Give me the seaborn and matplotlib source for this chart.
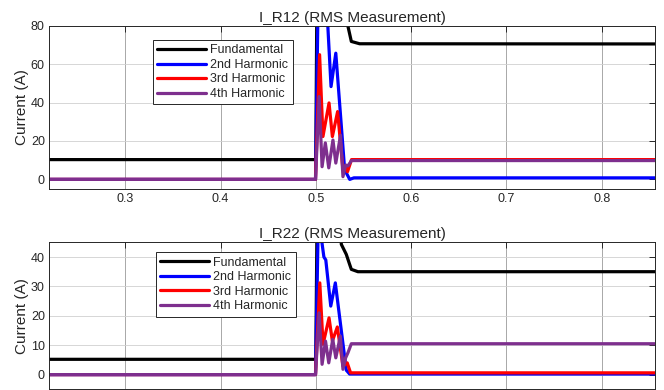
import matplotlib
matplotlib.use("Agg")
import matplotlib.pyplot as plt
import seaborn as sns
import pandas as pd

# ---------------- data ----------------
series_names = ["Fundamental", "2nd Harmonic", "3rd Harmonic", "4th Harmonic"]
series_colors = ["#000000", "#0000FF", "#FF0000", "#7E2F8E"]

# Panel 1: I_R12
r12_fund_t = [0.22, 0.5, 0.5015, 0.530, 0.5338, 0.5373, 0.546, 0.856]
r12_fund_v = [10.3, 10.3, 120, 120, 79.6, 71.8, 70.6, 70.5]
r12_h2_t = [0.22, 0.4997, 0.5025, 0.511, 0.516, 0.521, 0.5303, 0.5356, 0.540, 0.856]
r12_h2_v = [0, 0, 95, 95, 48.3, 65.7, 5, 0, 0.8, 0.8]
r12_h3_t = [0.22, 0.4997, 0.5040, 0.5075, 0.5139, 0.5174, 0.5229, 0.5285, 0.531, 0.5333, 0.5375, 0.856]
r12_h3_v = [0, 0, 64.9, 22.3, 39.8, 22.3, 35.3, 5, 7, 4, 10.3, 10.3]
r12_h4_t = [0.22, 0.4997, 0.5035, 0.5066, 0.510, 0.5136, 0.518, 0.521, 0.526, 0.5285, 0.5313, 0.5337, 0.5375, 0.856]
r12_h4_v = [0, 0, 43.1, 6.6, 19, 6, 20.5, 8.5, 23, 1.4, 7.5, 7, 9.8, 9.8]

# Panel 2: I_R22
r22_fund_t = [0.22, 0.5, 0.5015, 0.524, 0.5268, 0.532, 0.5355, 0.5373, 0.5442, 0.856]
r22_fund_v = [5.2, 5.2, 60, 60, 44.3, 40.9, 37.5, 35.8, 35.0, 35.0]
r22_h2_t = [0.22, 0.4997, 0.5025, 0.506, 0.5085, 0.5105, 0.5157, 0.5205, 0.532, 0.5355, 0.856]
r22_h2_v = [0, 0, 50, 46, 40, 39, 23.3, 31.2, 1.5, 0.2, 0.2]
r22_h3_t = [0.22, 0.4997, 0.5042, 0.5076, 0.5139, 0.5174, 0.5226, 0.5285, 0.5330, 0.5365, 0.856]
r22_h3_v = [0, 0, 31.2, 10.3, 19.3, 11.4, 16.2, 2.9, 4, 0.6, 0.6]
r22_h4_t = [0.22, 0.4997, 0.5035, 0.5066, 0.5102, 0.5136, 0.5178, 0.521, 0.5258, 0.5285, 0.5313, 0.5337, 0.5373, 0.856]
r22_h4_v = [0, 0, 21, 3.5, 11.4, 4, 12, 5.7, 13.1, 1.8, 5.7, 7.4, 10.5, 10.5]

titles = ["I_R12 (RMS Measurement)", "I_R22 (RMS Measurement)"]
x_ticks = [0.3, 0.4, 0.5, 0.6, 0.7, 0.8]
x_tick_labels = ["0.3", "0.4", "0.5", "0.6", "0.7", "0.8"]
y_ticks_top = [0, 20, 40, 60, 80]
y_ticks_bot = [0, 10, 20, 30, 40]

panels = [
    [(r12_fund_t, r12_fund_v), (r12_h2_t, r12_h2_v), (r12_h3_t, r12_h3_v), (r12_h4_t, r12_h4_v)],
    [(r22_fund_t, r22_fund_v), (r22_h2_t, r22_h2_v), (r22_h3_t, r22_h3_v), (r22_h4_t, r22_h4_v)],
]

# ---------------- style ----------------
sns.set_style("white")
plt.rcParams["font.family"] = ["Liberation Sans", "DejaVu Sans"]
txt = "#262626"

fig = plt.figure(figsize=(6.64, 3.90), dpi=100)
ax_rects = [
    [49 / 664, 1 - 189 / 390, 606 / 664, 163.3 / 390],
    [49 / 664, 1 - 389.3 / 390, 606 / 664, 147 / 390],
]
ylims = [(-5, 80), (-5, 45)]
yticks = [y_ticks_top, y_ticks_bot]
legend_anchor = [(152.7 / 664, 1 - 40 / 390), (155.7 / 664, 1 - 252.3 / 390)]

for i, rect in enumerate(ax_rects):
    ax = fig.add_axes(rect)
    for (t, v), name, col in zip(panels[i], series_names, series_colors):
        df = pd.DataFrame({"t": t, "I": v})
        sns.lineplot(data=df, x="t", y="I", ax=ax, color=col, linewidth=2.3,
                     label=name, sort=False, estimator=None)
    ax.set_xlim(0.22, 0.856)
    ax.set_ylim(*ylims[i])
    ax.set_xticks(x_ticks)
    if i == 0:
        ax.set_xticklabels(x_tick_labels)
    else:
        # the lower panel's tick labels fall below the visible figure area
        ax.set_xticklabels([])
    ax.set_yticks(yticks[i])
    ax.set_xlabel("")
    ax.set_ylabel("Current (A)", fontsize=11, color=txt, labelpad=1)
    ax.set_title(titles[i], fontsize=11, color=txt, pad=3)
    ax.tick_params(axis="both", direction="in", length=4, width=0.7, colors=txt,
                   labelsize=9, top=True, right=True, pad=3)
    ax.xaxis.grid(True, color="#9a9a9a", linewidth=0.6)
    ax.yaxis.grid(True, color="#d0d0d0", linewidth=0.6)
    ax.set_axisbelow(True)
    for sp in ax.spines.values():
        sp.set_color(txt)
        sp.set_linewidth(0.7)
    leg = ax.legend(loc="upper left", bbox_to_anchor=legend_anchor[i],
                    bbox_transform=fig.transFigure, borderaxespad=0,
                    fontsize=9, handlelength=3.9, handletextpad=0.35,
                    labelspacing=0.2, borderpad=0.35, fancybox=False,
                    framealpha=1, edgecolor="#262626")
    leg.get_frame().set_linewidth(0.7)
    for line in leg.get_lines():
        line.set_linewidth(2.3)

fig.savefig("out.png", dpi=100)
